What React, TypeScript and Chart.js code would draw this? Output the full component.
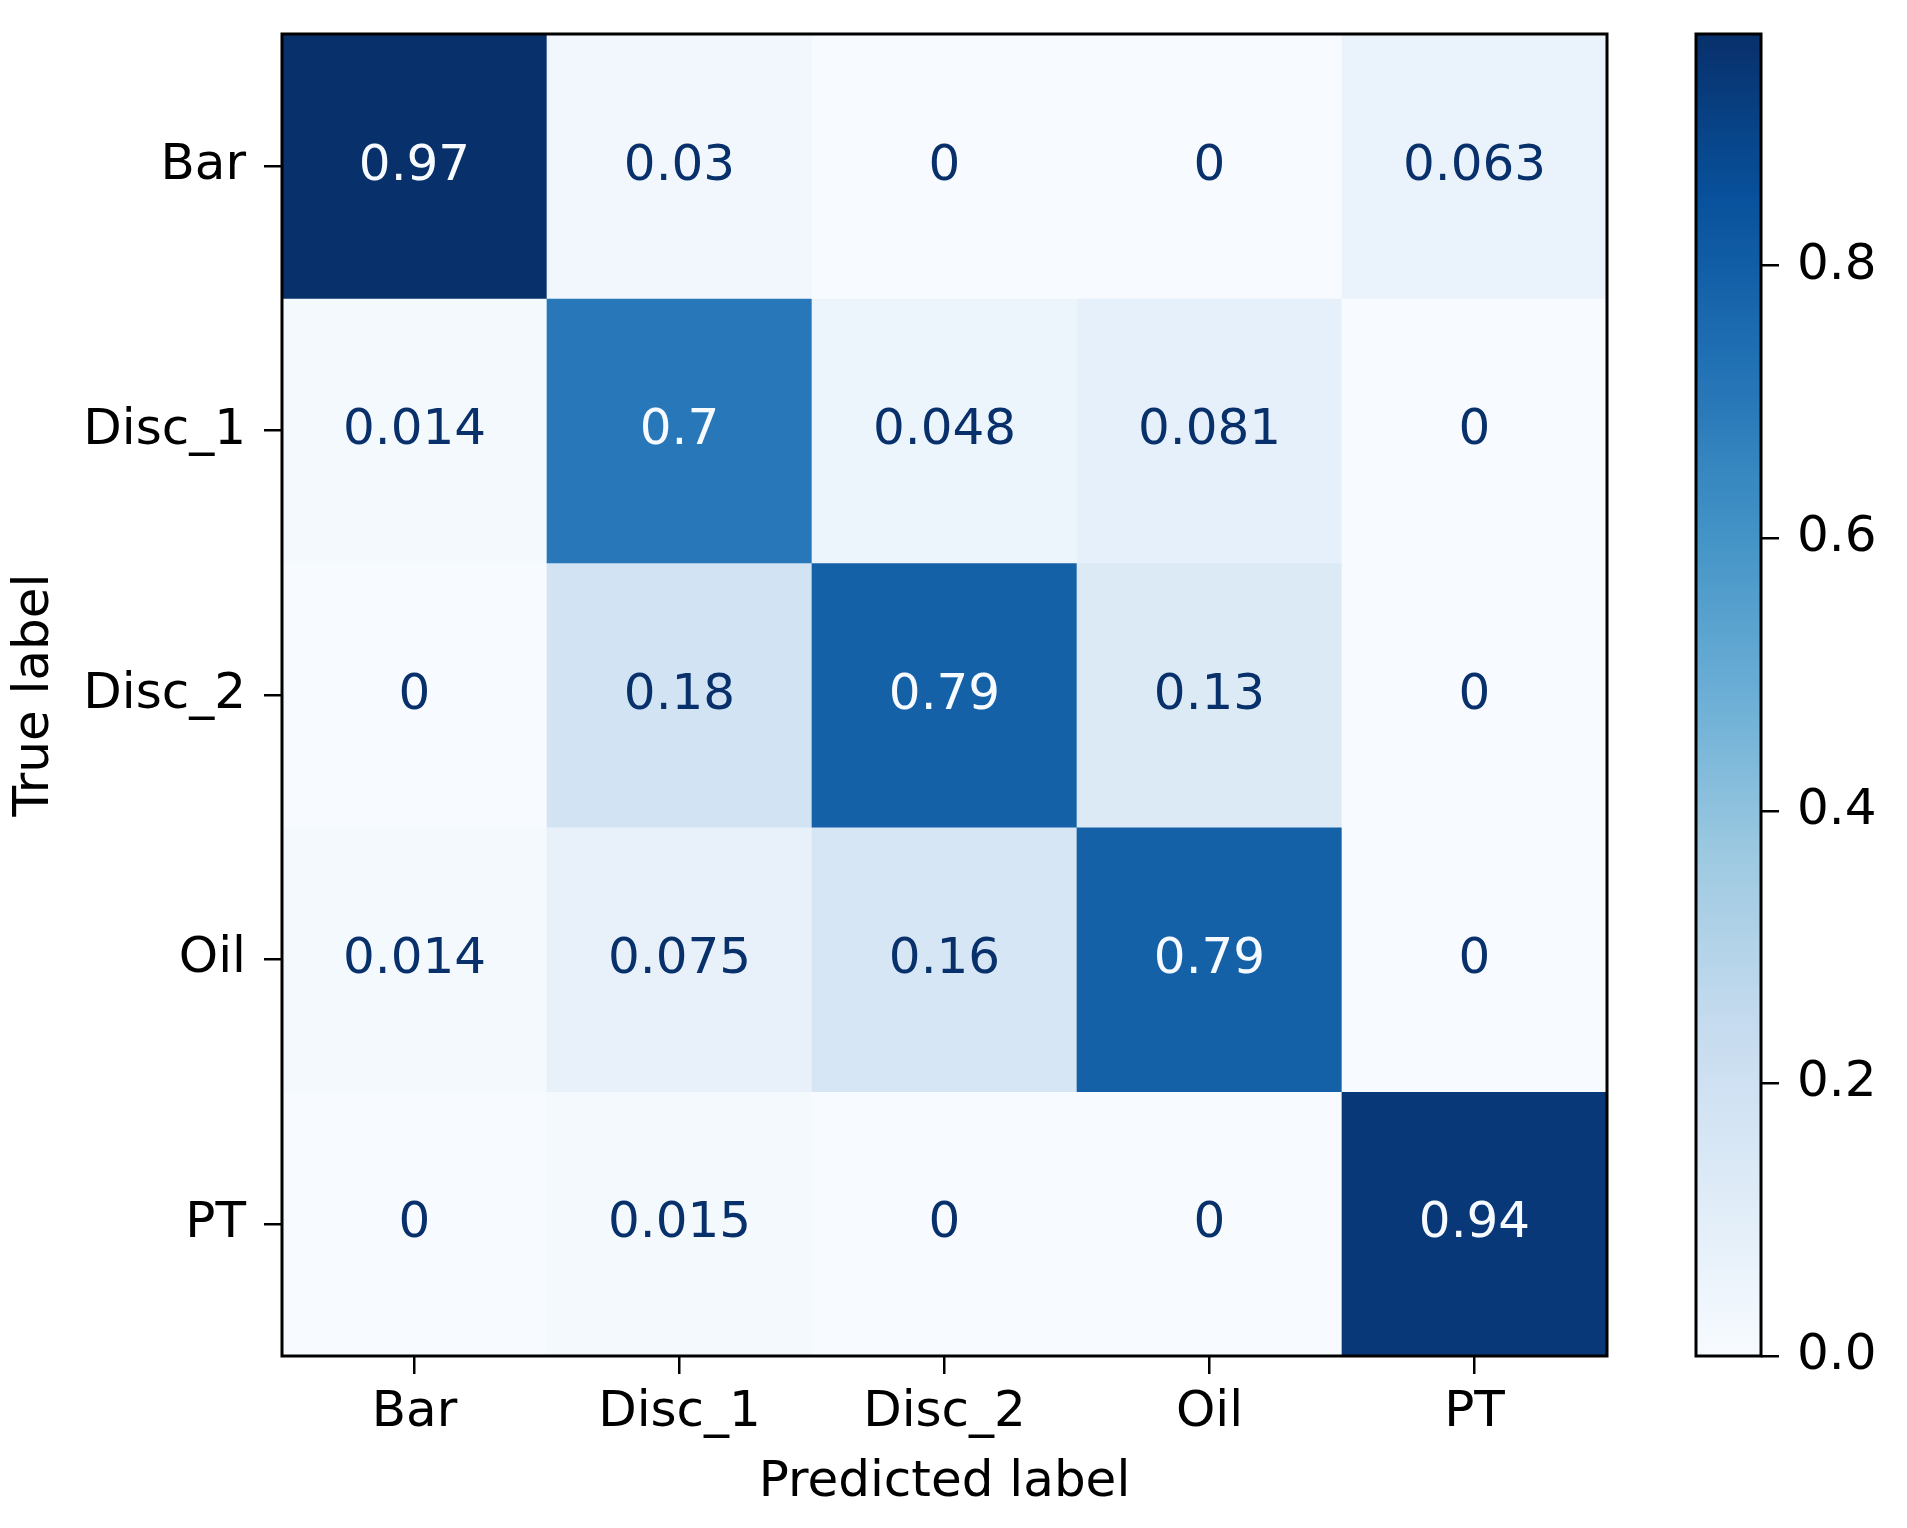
import React, { useEffect, useRef } from "react";
import { Chart, registerables } from "chart.js";

Chart.register(...registerables);

// ---- data ----
const predictedLabels = ["Bar", "Disc_1", "Disc_2", "Oil", "PT"];
const trueLabels = ["Bar", "Disc_1", "Disc_2", "Oil", "PT"];
const rowBar = [0.97, 0.03, 0, 0, 0.063];
const rowDisc1 = [0.014, 0.7, 0.048, 0.081, 0];
const rowDisc2 = [0, 0.18, 0.79, 0.13, 0];
const rowOil = [0.014, 0.075, 0.16, 0.79, 0];
const rowPT = [0, 0.015, 0, 0, 0.94];
const matrix = [rowBar, rowDisc1, rowDisc2, rowOil, rowPT];
const colorbarTicks = [0, 0.2, 0.4, 0.6, 0.8];

const VMIN = 0;
const VMAX = Math.max(...matrix.flat());

// matplotlib "Blues"
const BLUES = [
  "#f7fbff", "#deebf7", "#c6dbef", "#9ecae1", "#6baed6",
  "#4292c6", "#2171b5", "#08519c", "#08306b",
];
const hexToRgb = (h: string) => [
  parseInt(h.slice(1, 3), 16),
  parseInt(h.slice(3, 5), 16),
  parseInt(h.slice(5, 7), 16),
];
const BLUES_RGB = BLUES.map(hexToRgb);
function blues(t: number): string {
  const tt = Math.max(0, Math.min(1, t));
  const s = tt * (BLUES_RGB.length - 1);
  const i = Math.min(Math.floor(s), BLUES_RGB.length - 2);
  const f = s - i;
  const a = BLUES_RGB[i];
  const b = BLUES_RGB[i + 1];
  const c = a.map((v, k) => Math.round(v + (b[k] - v) * f));
  return `rgb(${c[0]},${c[1]},${c[2]})`;
}
const norm = (v: number) => (v - VMIN) / (VMAX - VMIN);
const fmt = (v: number) => String(Number(v.toPrecision(2)));

const FAMILY = "'DejaVu Sans', 'Liberation Sans', sans-serif";
const FONT = { family: FAMILY, size: 50 };

const W = 1907;
const H = 1528;
const MAIN_W = 1660;

const framePlugin = {
  id: "frame",
  afterDraw(chart: any) {
    const { ctx, chartArea } = chart;
    const { left, top, right, bottom } = chartArea;
    ctx.save();
    ctx.lineWidth = 3;
    ctx.strokeStyle = "#000";
    ctx.strokeRect(left, top, right - left, bottom - top);
    ctx.restore();
  },
};

const cellTextPlugin = {
  id: "cellText",
  afterDatasetsDraw(chart: any) {
    const { ctx } = chart;
    const xs = chart.scales.x;
    const ys = chart.scales.y;
    const thresh = (VMAX + VMIN) / 2;
    ctx.save();
    ctx.font = `${FONT.size}px ${FAMILY}`;
    ctx.textAlign = "center";
    ctx.textBaseline = "alphabetic";
    matrix.forEach((row, r) => {
      row.forEach((v, c) => {
        const x = xs.getPixelForValue(c);
        const y = ys.getPixelForValue(r);
        ctx.fillStyle = v < thresh ? BLUES[8] : BLUES[0];
        ctx.fillText(fmt(v), x, y + 13.5);
      });
    });
    ctx.restore();
  },
};

export default function App() {
  const mainRef = useRef<HTMLCanvasElement>(null);
  const cbRef = useRef<HTMLCanvasElement>(null);

  useEffect(() => {
    const tickGrid = {
      display: true,
      drawOnChartArea: false,
      drawTicks: true,
      tickLength: 18,
      color: "#000",
      lineWidth: 2.5,
      offset: false,
    };

    const main = new Chart(mainRef.current!, {
      type: "bar",
      data: {
        labels: predictedLabels,
        datasets: trueLabels.map((t, r) => ({
          label: t,
          data: matrix[r].map(() => [r - 0.5, r + 0.5]),
          backgroundColor: matrix[r].map((v) => blues(norm(v))),
          borderWidth: 0,
          barPercentage: 1,
          categoryPercentage: 1,
          grouped: false,
        })),
      } as any,
      options: {
        animation: false,
        responsive: false,
        devicePixelRatio: 1,
        layout: { padding: { left: 0, top: 34, right: MAIN_W - 1607, bottom: 0 } },
        plugins: { legend: { display: false }, tooltip: { enabled: false } },
        scales: {
          x: {
            type: "category",
            offset: true,
            grid: tickGrid as any,
            border: { display: false },
            ticks: { font: FONT, color: "#000", padding: 9, maxRotation: 0, autoSkip: false },
            title: {
              display: true,
              text: "Predicted label",
              font: FONT,
              color: "#000",
              padding: { top: 0, bottom: 15 },
            },
            afterFit: (s: any) => {
              s.height = H - 1356;
              s.paddingLeft = 0;
              s.paddingRight = 0;
            },
          },
          y: {
            type: "linear",
            min: -0.5,
            max: trueLabels.length - 0.5,
            reverse: true,
            grid: tickGrid as any,
            border: { display: false },
            afterBuildTicks: (s: any) => {
              s.ticks = trueLabels.map((_, i) => ({ value: i }));
            },
            ticks: {
              font: FONT,
              color: "#000",
              padding: 18,
              autoSkip: false,
              callback: (v: any) => trueLabels[v as number] ?? "",
            },
            title: {
              display: true,
              text: "True label",
              font: FONT,
              color: "#000",
              padding: { top: 5, bottom: 0 },
            },
            afterFit: (s: any) => {
              s.width = 282;
              s.paddingTop = 0;
              s.paddingBottom = 0;
            },
          },
        },
      } as any,
      plugins: [cellTextPlugin, framePlugin],
    });

    const CB_LEFT = 1696 - MAIN_W;
    const CB_RIGHT = 1761 - MAIN_W;
    const cbW = W - MAIN_W;
    const cb = new Chart(cbRef.current!, {
      type: "bar",
      data: {
        labels: [""],
        datasets: [
          {
            data: [[VMIN, VMAX]],
            borderWidth: 0,
            barPercentage: 1,
            categoryPercentage: 1,
            backgroundColor: (ctx: any) => {
              const area = ctx.chart.chartArea;
              if (!area) return blues(0.5);
              const g = ctx.chart.ctx.createLinearGradient(0, area.bottom, 0, area.top);
              const n = 64;
              for (let i = 0; i <= n; i++) g.addColorStop(i / n, blues(i / n));
              return g;
            },
          },
        ],
      } as any,
      options: {
        animation: false,
        responsive: false,
        devicePixelRatio: 1,
        layout: { padding: { left: CB_LEFT, top: 34, right: 0, bottom: H - 1356 } },
        plugins: { legend: { display: false }, tooltip: { enabled: false } },
        scales: {
          x: { display: false },
          y: {
            type: "linear",
            position: "right",
            min: VMIN,
            max: VMAX,
            grid: { ...tickGrid } as any,
            border: { display: false },
            afterBuildTicks: (s: any) => {
              s.ticks = colorbarTicks.map((v) => ({ value: v }));
            },
            ticks: {
              font: FONT,
              color: "#000",
              padding: 18,
              autoSkip: false,
              callback: (v: any) => Number(v).toFixed(1),
            },
            afterFit: (s: any) => {
              s.width = cbW - CB_RIGHT;
              s.paddingTop = 0;
              s.paddingBottom = 0;
            },
          },
        },
      } as any,
      plugins: [framePlugin],
    });

    return () => {
      main.destroy();
      cb.destroy();
    };
  }, []);

  return (
    <div style={{ position: "absolute", left: 0, top: 0, width: W, height: H, background: "#fff" }}>
      <canvas
        ref={mainRef}
        width={MAIN_W}
        height={H}
        style={{ position: "absolute", left: 0, top: 0, width: MAIN_W, height: H }}
      />
      <canvas
        ref={cbRef}
        width={W - MAIN_W}
        height={H}
        style={{ position: "absolute", left: MAIN_W, top: 0, width: W - MAIN_W, height: H }}
      />
    </div>
  );
}
